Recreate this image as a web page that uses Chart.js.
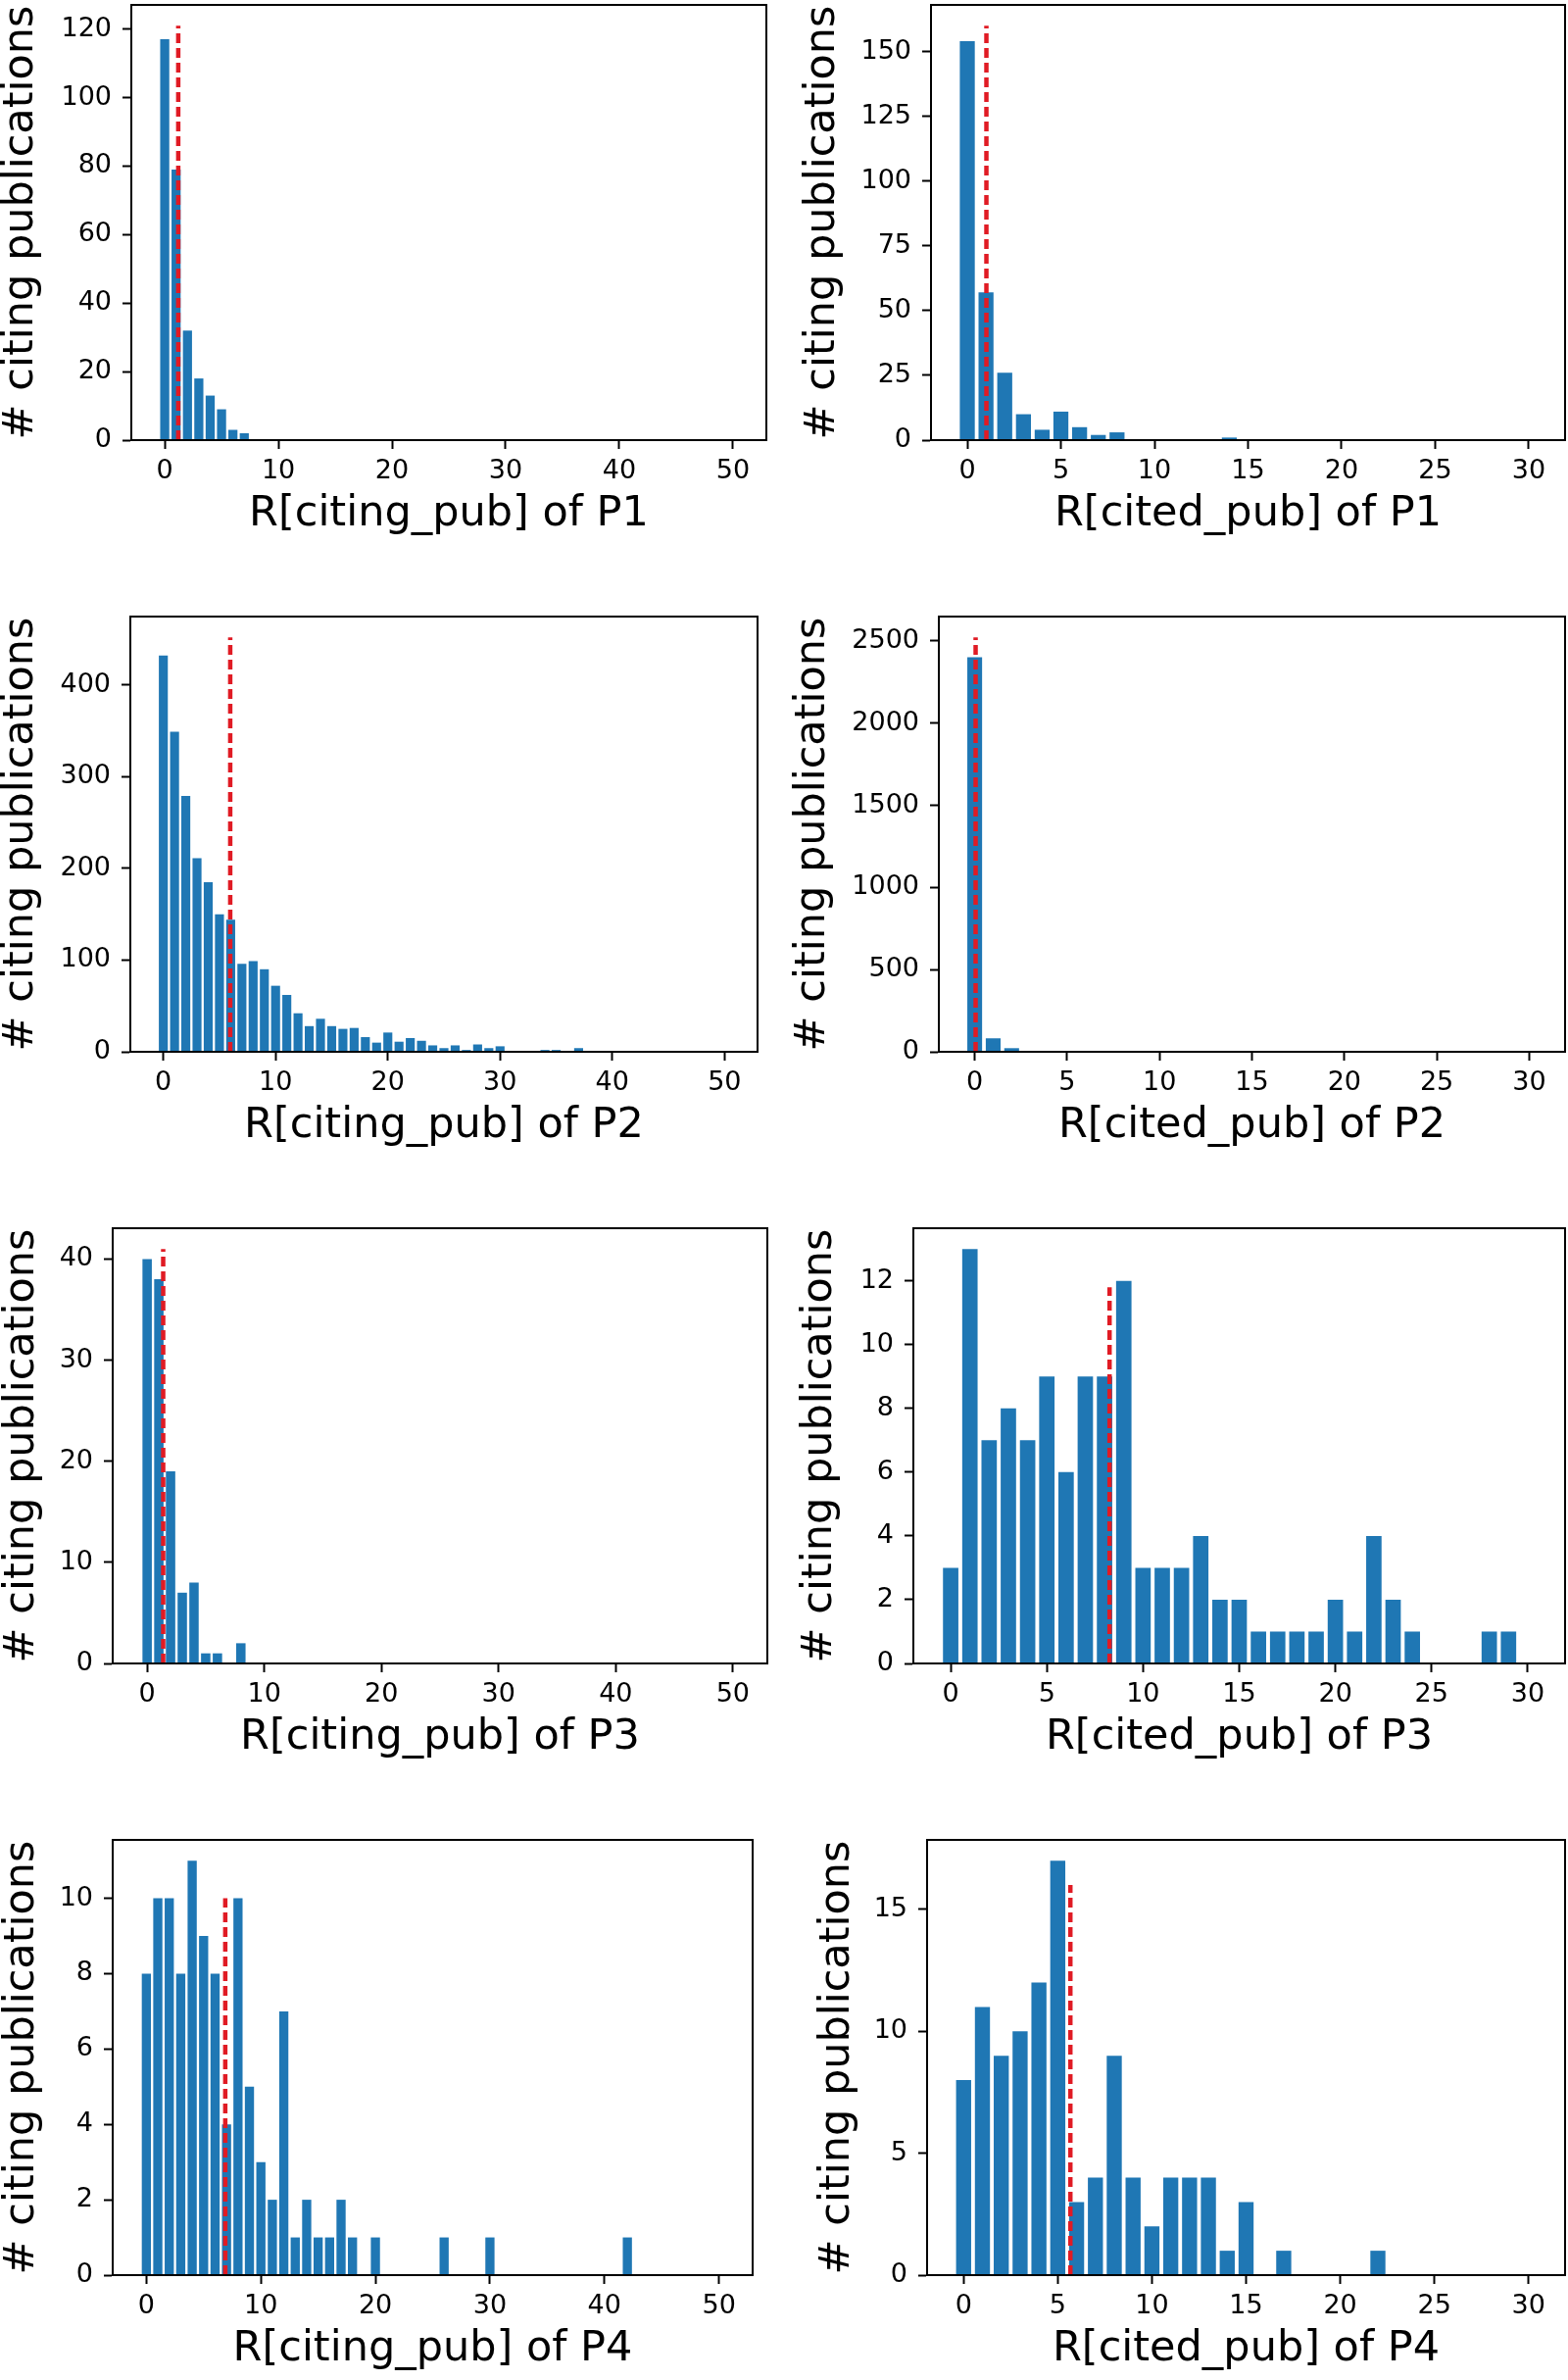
<!DOCTYPE html>
<html><head><meta charset="utf-8">
<script src="https://cdn.jsdelivr.net/npm/chart.js@4.4.1/dist/chart.umd.min.js"></script>
<style>
html,body{margin:0;padding:0;background:#fff;width:1600px;height:2428px;overflow:hidden;position:relative}
canvas{position:absolute}
</style></head><body>
<script>
// ---- categories (bin centres) ----
const binsCiting = [0,1,2,3,4,5,6,7,8,9,10,11,12,13,14,15,16,17,18,19,20,21,22,23,24,25,26,27,28,29,30,31,32,33,34,35,36,37,38,39,40,41,42,43,44,45,46,47,48,49,50];
const binsCited  = [0,1,2,3,4,5,6,7,8,9,10,11,12,13,14,15,16,17,18,19,20,21,22,23,24,25,26,27,28,29,30];

// ---- tick labels ----
const xTicksCiting = [0,10,20,30,40,50];
const xTicksCited  = [0,5,10,15,20,25,30];
const yTicksCitingP1 = [0,20,40,60,80,100,120];
const yTicksCitedP1  = [0,25,50,75,100,125,150];
const yTicksCitingP2 = [0,100,200,300,400];
const yTicksCitedP2  = [0,500,1000,1500,2000,2500];
const yTicksCitingP3 = [0,10,20,30,40];
const yTicksCitedP3  = [0,2,4,6,8,10,12];
const yTicksCitingP4 = [0,2,4,6,8,10];
const yTicksCitedP4  = [0,5,10,15];

// ---- series values (# citing publications per bin) ----
const citingP1 = [117,79,32,18,13,9,3,2,0,0,0,0,0,0,0,0,0,0,0,0,0,0,0,0,0,0,0,0,0,0,0,0,0,0,0,0,0,0,0,0,0,0,0,0,0,0,0,0,0,0,0];
const citedP1  = [154,57,26,10,4,11,5,2,3,0,0,0,0,0,1,0,0,0,0,0,0,0,0,0,0,0,0,0,0,0,0];
const citingP2 = [432,349,279,211,185,150,144,96,99,90,72,62,42,28,36,28,25,26,16,10,21,11,15,12,7,4,7,2,8,4,6,1,0,0,2,2,1,4,0,1,1,0,1,0,0,0,0,0,0,0,0];
const citedP2  = [2400,82,22,0,0,0,0,0,0,0,0,0,0,0,0,0,0,0,0,0,0,0,0,0,0,0,0,0,0,0,0];
const citingP3 = [40,38,19,7,8,1,1,0,2,0,0,0,0,0,0,0,0,0,0,0,0,0,0,0,0,0,0,0,0,0,0,0,0,0,0,0,0,0,0,0,0,0,0,0,0,0,0,0,0,0,0];
const citedP3  = [3,13,7,8,7,9,6,9,9,12,3,3,3,4,2,2,1,1,1,1,2,1,4,2,1,0,0,0,1,1,0];
const citingP4 = [8,10,10,8,11,9,8,4,10,5,3,2,7,1,2,1,1,2,1,0,1,0,0,0,0,0,1,0,0,0,1,0,0,0,0,0,0,0,0,0,0,0,1,0,0,0,0,0,0,0,0];
const citedP4  = [8,11,9,10,12,17,3,4,9,4,2,4,4,4,1,3,0,1,0,0,0,0,1,0,0,0,0,0,0,0,0];

// ---- mean (red dashed line) position and height, y-axis upper limits ----
const meanValues    = [1.19, 1.02, 5.96, 0.05, 1.37, 8.26, 6.89, 5.67];
const meanLineTops  = [121, 160, 452, 2522, 41, 11.8, 10, 16];
const yMaxValues    = [127.05, 168, 474.6, 2648, 43.05, 13.65, 11.55, 17.85];

// ---- texts ----
const xTitles = ['R[citing_pub] of P1','R[cited_pub] of P1','R[citing_pub] of P2','R[cited_pub] of P2',
                 'R[citing_pub] of P3','R[cited_pub] of P3','R[citing_pub] of P4','R[cited_pub] of P4'];
const yTitle = '# citing publications';

const seriesList = [citingP1, citedP1, citingP2, citedP2, citingP3, citedP3, citingP4, citedP4];
const yTickList  = [yTicksCitingP1, yTicksCitedP1, yTicksCitingP2, yTicksCitedP2, yTicksCitingP3, yTicksCitedP3, yTicksCitingP4, yTicksCitedP4];

// ---- layout (positions only) ----
const frames = [
  {colX:0,   l:134, t:5,    r:782,  b:449,  tcx:25},
  {colX:800, l:950, t:5,    r:1597, b:449,  tcx:843},
  {colX:0,   l:133, t:629,  r:773,  b:1073, tcx:25},
  {colX:800, l:958, t:629,  r:1597, b:1073, tcx:833},
  {colX:0,   l:115, t:1253, r:783,  b:1697, tcx:26},
  {colX:800, l:932, t:1253, r:1597, b:1697, tcx:840},
  {colX:0,   l:115, t:1877, r:768,  b:2321, tcx:26},
  {colX:800, l:946, t:1877, r:1597, b:2321, tcx:858}
];
const xRangeCiting = [-2.94, 52.94];
const xRangeCited  = [-1.94, 31.94];

const FONT = 'DejaVu Sans';
const TITLE_SIZE = 43;
const BLUE = '#1f77b4';
const RED = '#e01b24';

const framePlugin = {
  id: 'frame',
  afterDraw(chart) {
    const {ctx, chartArea: a} = chart;
    ctx.save();
    ctx.strokeStyle = '#000';
    ctx.lineWidth = 2;
    ctx.strokeRect(a.left, a.top, a.right - a.left, a.bottom - a.top);
    ctx.restore();
  }
};

seriesList.forEach((values, i) => {
  const f = frames[i];
  const isCiting = (i % 2 === 0);
  const bins = isCiting ? binsCiting : binsCited;
  const xTicks = isCiting ? xTicksCiting : xTicksCited;
  const xRange = isCiting ? xRangeCiting : xRangeCited;
  const yTicks = yTickList[i];

  const canvasLeft = f.colX - 10;
  const canvasTop = f.t - 60;
  const xAxisH = 102;
  const cv = document.createElement('canvas');
  cv.width = 810;
  cv.height = f.b + xAxisH - canvasTop;
  cv.style.left = canvasLeft + 'px';
  cv.style.top = canvasTop + 'px';
  document.body.appendChild(cv);

  const halfLine = TITLE_SIZE * 1.2 / 2;
  const padLeft = f.tcx - 3.6 - halfLine - canvasLeft;
  const yAxisW = f.l - canvasLeft - padLeft;
  const m = meanValues[i];

  new Chart(cv, {
    type: 'bar',
    data: {
      labels: bins,
      datasets: [
        {type: 'line', data: [{x: m, y: 0}, {x: m, y: meanLineTops[i]}],
         borderColor: RED, borderWidth: 4.5, borderDash: [10, 5], pointRadius: 0,
         fill: false, tension: 0, order: 1},
        {type: 'bar', data: values, backgroundColor: BLUE, borderWidth: 0,
         barPercentage: 0.8, categoryPercentage: 1.0, order: 2}
      ]
    },
    options: {
      responsive: false,
      animation: false,
      events: [],
      layout: {padding: {left: padLeft, top: 60, right: f.colX + 800 - f.r, bottom: 0}},
      plugins: {legend: {display: false}, tooltip: {enabled: false}},
      scales: {
        x: {
          type: 'linear', min: xRange[0], max: xRange[1], offset: false,
          afterBuildTicks: s => { s.ticks = xTicks.map(v => ({value: v})); },
          afterFit: s => { s.height = xAxisH; },
          ticks: {font: {family: FONT, size: 27}, color: '#000', padding: 7,
                  maxRotation: 0, minRotation: 0, autoSkip: false, callback: v => String(v)},
          grid: {display: true, drawOnChartArea: false, drawTicks: true, tickLength: 9,
                 tickWidth: 2, tickColor: '#000', offset: false},
          border: {display: true, color: '#000', width: 2},
          title: {display: true, text: xTitles[i], color: '#000',
                  font: {family: FONT, size: TITLE_SIZE}, padding: {top: 0, bottom: 0}}
        },
        y: {
          type: 'linear', min: 0, max: yMaxValues[i],
          afterBuildTicks: s => { s.ticks = yTicks.map(v => ({value: v})); },
          afterFit: s => { s.width = yAxisW; },
          ticks: {font: {family: FONT, size: 27}, color: '#000', padding: 11,
                  autoSkip: false, callback: v => String(v)},
          grid: {display: true, drawOnChartArea: false, drawTicks: true, tickLength: 9,
                 tickWidth: 2, tickColor: '#000'},
          border: {display: true, color: '#000', width: 2},
          title: {display: true, text: yTitle, color: '#000',
                  font: {family: FONT, size: TITLE_SIZE}, padding: {top: 0, bottom: 0}}
        }
      }
    },
    plugins: [framePlugin]
  });
});
</script>
</body></html>
